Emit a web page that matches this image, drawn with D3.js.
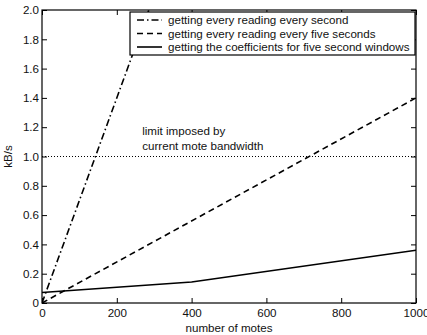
<!DOCTYPE html>
<html>
<head>
<meta charset="utf-8">
<script src="https://cdn.jsdelivr.net/npm/d3@7"></script>
<style>
  body { margin: 0; background: #fff; }
  svg text { font-family: "Liberation Sans", Arial, sans-serif; fill: #111; }
</style>
</head>
<body>
<div id="chart"></div>
<script>
// series (x = number of motes, y = kB/s)
const everySecond = [[0, 0], [1000, 7.0]];
const everyFive = [[0, 0], [1000, 1.4]];
const coefficients = [[0, 0.072], [400, 0.143], [1000, 0.36]];
const xTicks = [0, 200, 400, 600, 800, 1000];
const yTicks = [0, 0.2, 0.4, 0.6, 0.8, 1.0, 1.2, 1.4, 1.6, 1.8, 2.0];
const legendLabels = [
  'getting every reading every second',
  'getting every reading every five seconds',
  'getting the coefficients for five second windows'
];
const limit = 1.0;

const w = 427, h = 335;
const margin = { top: 10, right: 11, bottom: 32, left: 42 };
const fontSize = '11.6px';

const svg = d3.select('#chart')
              .append('svg')
              .attr('width', w)
              .attr('height', h);

const xScale = d3.scaleLinear()
                 .domain([0, 1000])
                 .range([margin.left, w - margin.right]);
const yScale = d3.scaleLinear()
                 .domain([0, 2])
                 .range([h - margin.bottom, margin.top]);

const fmt = d => d === 0 ? '0' : d3.format('.1f')(d);

svg.append('defs').append('clipPath')
   .attr('id', 'plot')
   .append('rect')
   .attr('x', margin.left)
   .attr('y', margin.top)
   .attr('width', xScale(1000) - margin.left)
   .attr('height', yScale(0) - margin.top);

// axes, ticks pointing inward on all four sides
const axisStyle = g => {
  g.select('.domain').remove();
  g.selectAll('line').attr('stroke', '#000');
  g.selectAll('text').style('font-size', fontSize);
};

svg.append('g')
   .attr('transform', `translate(0, ${yScale(0)})`)
   .call(d3.axisBottom(xScale).tickValues(xTicks).tickSize(-5).tickPadding(6).tickFormat(d3.format('d')))
   .call(axisStyle);
svg.append('g')
   .attr('transform', `translate(0, ${yScale(2)})`)
   .call(d3.axisTop(xScale).tickValues(xTicks).tickSize(-5).tickFormat(''))
   .call(axisStyle);
svg.append('g')
   .attr('transform', `translate(${xScale(0)}, 0)`)
   .call(d3.axisLeft(yScale).tickValues(yTicks).tickSize(-5).tickPadding(3).tickFormat(fmt))
   .call(axisStyle);
svg.append('g')
   .attr('transform', `translate(${xScale(1000)}, 0)`)
   .call(d3.axisRight(yScale).tickValues(yTicks).tickSize(-5).tickFormat(''))
   .call(axisStyle);

// limit line
svg.append('line')
   .attr('x1', xScale(0)).attr('x2', xScale(1000))
   .attr('y1', yScale(limit)).attr('y2', yScale(limit))
   .attr('stroke', '#000')
   .attr('stroke-width', 1)
   .attr('stroke-dasharray', '1,2');

svg.append('text')
   .attr('y', yScale(1.145))
   .style('font-size', fontSize)
   .selectAll('tspan')
   .data(['limit imposed by', 'current mote bandwidth'])
   .join('tspan')
   .attr('x', xScale(268))
   .attr('dy', (d, i) => i ? 15 : 0)
   .text(d => d);

const line = d3.line()
               .x(d => xScale(d[0]))
               .y(d => yScale(d[1]));

const series = [
  { data: everySecond, dash: '7,3,1.5,3' },
  { data: everyFive, dash: '6,4' },
  { data: coefficients, dash: null }
];

svg.append('g')
   .attr('clip-path', 'url(#plot)')
   .selectAll('path')
   .data(series)
   .join('path')
   .attr('d', d => line(d.data))
   .attr('fill', 'none')
   .attr('stroke', '#000')
   .attr('stroke-width', 1.6)
   .attr('stroke-dasharray', d => d.dash);

// frame
svg.append('rect')
   .attr('x', xScale(0))
   .attr('y', yScale(2))
   .attr('width', xScale(1000) - xScale(0))
   .attr('height', yScale(0) - yScale(2))
   .attr('fill', 'none')
   .attr('stroke', '#000')
   .attr('stroke-width', 1.2);

// legend
const legend = svg.append('g').attr('transform', 'translate(130, 12)');
legend.append('rect')
      .attr('width', 285)
      .attr('height', 43)
      .attr('fill', '#fff')
      .attr('stroke', '#000')
      .attr('stroke-width', 1.2);
const item = legend.selectAll('g.item')
                   .data(series)
                   .join('g')
                   .attr('class', 'item')
                   .attr('transform', (d, i) => `translate(0, ${8 + i * 13.5})`);
item.append('line')
    .attr('x1', 7).attr('x2', 32)
    .attr('stroke', '#000')
    .attr('stroke-width', 1.6)
    .attr('stroke-dasharray', d => d.dash);
item.append('text')
    .attr('x', 38)
    .attr('dy', '0.35em')
    .style('font-size', fontSize)
    .text((d, i) => legendLabels[i]);

// axis titles
svg.append('text')
   .attr('x', (xScale(0) + xScale(1000)) / 2)
   .attr('y', h - 3)
   .attr('text-anchor', 'middle')
   .style('font-size', fontSize)
   .text('number of motes');
svg.append('text')
   .attr('transform', `translate(12, ${yScale(1)}) rotate(-90)`)
   .attr('text-anchor', 'middle')
   .style('font-size', fontSize)
   .text('kB/s');
</script>
</body>
</html>
